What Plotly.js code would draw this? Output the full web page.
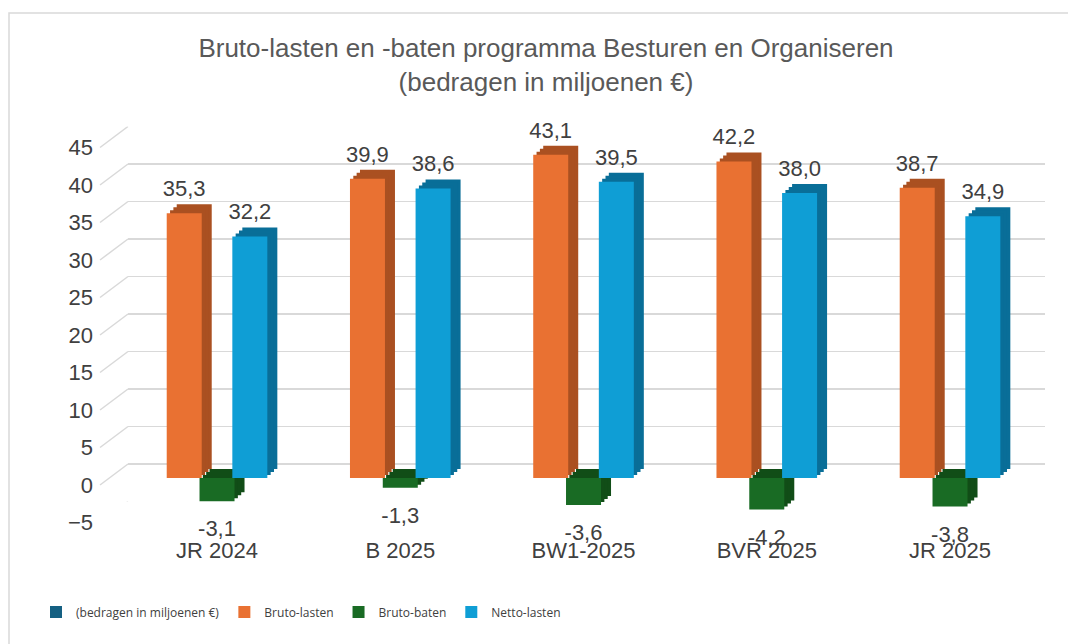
<!DOCTYPE html>
<html><head><meta charset="utf-8">
<script src="https://cdn.plot.ly/plotly-3.0.1.min.js"></script>
<style>html,body{margin:0;padding:0;background:#fff;}#chart{width:1068px;height:644px;}</style>
</head><body><div id="chart"></div>
<script>
// ---- data ----
const categories = ['JR 2024', 'B 2025', 'BW1-2025', 'BVR 2025', 'JR 2025'];
const brutoLasten = [35.3, 39.9, 43.1, 42.2, 38.7];
const brutoBaten = [-3.1, -1.3, -3.6, -4.2, -3.8];
const nettoLasten = [32.2, 38.6, 39.5, 38.0, 34.9];
const yTicks = [-5, 0, 5, 10, 15, 20, 25, 30, 35, 40, 45];
const titleText = 'Bruto-lasten en -baten programma Besturen en Organiseren<br>(bedragen in miljoenen €)';
const unitSeriesName = '(bedragen in miljoenen €)';

// ---- geometry helpers (styling only) ----
const W = 1068, H = 644;
const px = v => v / W;
const py = v => 1 - v / H;
const PXU = 7.5;            // px per y unit
const ydom = zero => [1 - (zero + 5 * PXU) / H, 1 - (zero - 45 * PXU) / H];
const idx = categories.map((c, i) => i);
const BW = 0.191, SLOT = 0.179;
const FRONT_L = 125.4, XW = 916.25, FRONT_ZERO = 478;
const DEPTH_X = 10, DEPTH_Y = 9, STEPS = 3;
const LABEL_DROP = (485 - 464) / PXU;

const series = [
  {name: 'Bruto-lasten', y: brutoLasten, front: '#E97132', back: '#AA5021', off: -SLOT, rank: 2, pos: 'top center', msize: 17},
  {name: 'Bruto-baten', y: brutoBaten, front: '#196B24', back: '#114D17', off: 0, rank: 3, pos: 'bottom center', msize: 28},
  {name: 'Netto-lasten', y: nettoLasten, front: '#0F9ED5', back: '#096E98', off: SLOT, rank: 4, pos: 'top center', msize: 17}
];

const hidden = {visible: false, fixedrange: true};
const layout = {
  width: W, height: H, margin: {l: 0, r: 0, t: 0, b: 0},
  paper_bgcolor: '#ffffff', plot_bgcolor: 'rgba(0,0,0,0)',
  separators: ',.', barmode: 'overlay',
  font: {family: 'Liberation Sans, Arial, sans-serif', color: '#404040'},
  title: {text: titleText, x: px(546), xanchor: 'center', y: py(57), yanchor: 'top',
          font: {size: 26, color: '#595959', family: 'Liberation Sans, Arial, sans-serif'}},
  showlegend: true,
  legend: {orientation: 'h', x: px(36), xanchor: 'left', y: py(612), yanchor: 'middle',
           font: {family: "'Open Sans', sans-serif", size: 12, color: '#404040'},
           bgcolor: 'rgba(0,0,0,0)'},
  xaxis: {domain: [px(128), px(1045)], range: [-0.5, 4.5], anchor: 'y', showgrid: false, zeroline: false,
          showticklabels: false, showline: false, ticks: '', fixedrange: true},
  yaxis: {domain: ydom(464), range: [-5, 45], anchor: 'x', showgrid: true, gridcolor: '#d9d9d9', gridwidth: 1.5,
          tickmode: 'array', tickvals: yTicks, zeroline: false, showticklabels: false, showline: false, ticks: '', fixedrange: true}
};

const traces = [];
// placeholder for the back-wall grid subplot
traces.push({type: 'scatter', x: [null], y: [null], xaxis: 'x', yaxis: 'y', showlegend: false, hoverinfo: 'skip'});

// depth layers (deepest first) emulate the 3D side/top faces
for (let k = STEPS; k >= 1; k--) {
  const n = STEPS - k + 2;       // axis number 2..STEPS+1
  const dx = DEPTH_X * k / STEPS, dy = DEPTH_Y * k / STEPS;
  layout['xaxis' + n] = Object.assign({domain: [px(FRONT_L + dx), px(FRONT_L + dx + XW)], range: [-0.5, 4.5], anchor: 'y' + n}, hidden);
  layout['yaxis' + n] = Object.assign({domain: ydom(FRONT_ZERO - dy), range: [-5, 45], anchor: 'x' + n}, hidden);
  series.forEach(s => traces.push({
    type: 'bar', x: idx, y: s.y, xaxis: 'x' + n, yaxis: 'y' + n, width: BW, offset: s.off - BW / 2,
    marker: {color: s.back, line: {width: 0}}, showlegend: false, hoverinfo: 'skip'
  }));
}
const F = STEPS + 2;           // front axis number
const L = STEPS + 3;           // label axis number
layout['xaxis' + F] = {domain: [px(FRONT_L), px(FRONT_L + XW)], range: [-0.5, 4.5], anchor: 'y' + F,
  tickmode: 'array', tickvals: idx, ticktext: categories, ticks: 'outside', ticklen: 15,
  tickcolor: 'rgba(0,0,0,0)', showgrid: false, zeroline: false, showline: false,
  tickfont: {size: 22, color: '#404040'}, fixedrange: true};
layout['yaxis' + F] = Object.assign({domain: ydom(FRONT_ZERO), range: [-5, 45], anchor: 'x' + F}, hidden);
layout['yaxis' + L] = {domain: ydom(485), range: [-5, 45], anchor: 'free', position: px(93), side: 'left',
  tickmode: 'array', tickvals: yTicks, showgrid: false, zeroline: false, showline: false, ticks: '',
  tickfont: {size: 22, color: '#404040'}, fixedrange: true};

// front faces
series.forEach(s => traces.push({
  type: 'bar', x: idx, y: s.y, xaxis: 'x' + F, yaxis: 'y' + F, width: BW, offset: s.off - BW / 2,
  name: s.name, legendrank: s.rank, marker: {color: s.front, line: {width: 0}}
}));
// unit "series" shown only in the legend
traces.push({
  type: 'bar', x: idx, y: idx.map(() => null), xaxis: 'x' + F, yaxis: 'y' + L,
  name: unitSeriesName, legendrank: 1, marker: {color: '#156082'}
});
// value labels
series.forEach(s => traces.push({
  type: 'scatter', mode: 'markers+text', x: idx.map(i => i + s.off), y: s.y, xaxis: 'x' + F, yaxis: 'y' + F,
  marker: {size: s.msize, opacity: 0}, texttemplate: '%{y:.1f}', textposition: s.pos,
  textfont: {size: 22, color: '#404040'}, cliponaxis: false, showlegend: false, hoverinfo: 'skip'
}));

const shapes = [{
  type: 'rect', xref: 'paper', yref: 'paper', x0: px(9), x1: px(1090), y0: py(700), y1: py(13),
  line: {color: '#d9d9d9', width: 1.5}, fillcolor: 'rgba(0,0,0,0)', layer: 'below'
}];
yTicks.forEach(t => shapes.push({
  type: 'line', xref: 'paper', yref: 'y', x0: px(100), x1: px(128), y0: t - LABEL_DROP, y1: t,
  line: {color: '#d9d9d9', width: 1.5}, layer: 'below'
}));
layout.shapes = shapes;

Plotly.newPlot('chart', traces, layout, {displayModeBar: false, staticPlot: true});
</script>
</body></html>
